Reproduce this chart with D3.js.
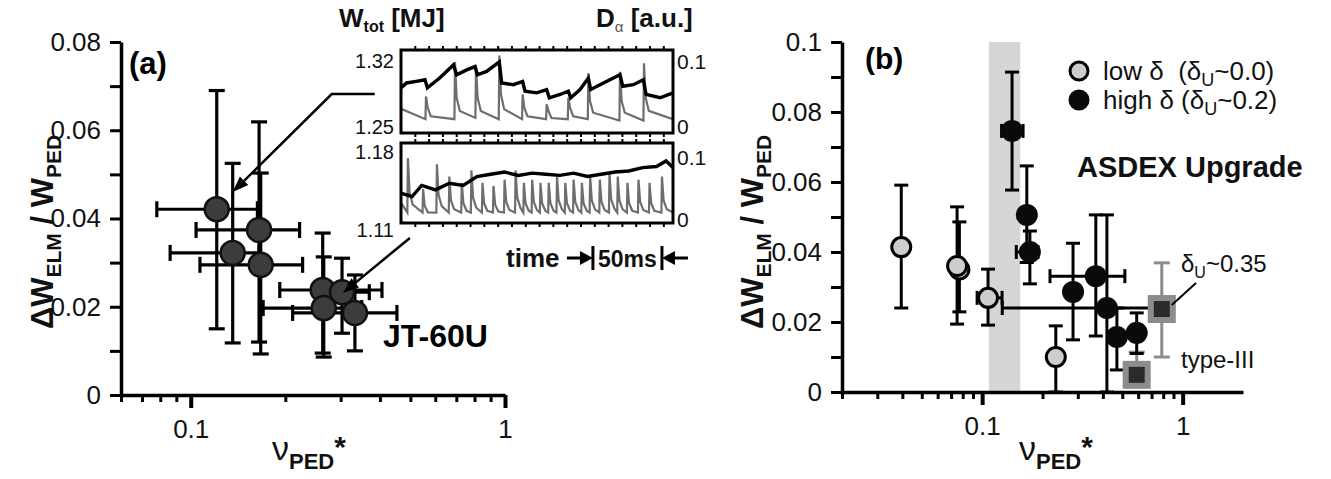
<!DOCTYPE html>
<html>
<head>
<meta charset="utf-8">
<script src="https://cdn.jsdelivr.net/npm/d3@7"></script>
<style>
body { margin: 0; background: #fff; }
svg { font-family: "Liberation Sans", Arial, Helvetica, sans-serif; }
text { white-space: pre; }
</style>
</head>
<body>
<svg id="chart" width="1331" height="479"></svg>
<script>
// ---------- panel (a) JT-60U ----------
const jtNu   = [0.121, 0.165, 0.136, 0.167, 0.263, 0.303, 0.265, 0.333];
const jtNuLo = [0.078, 0.104, 0.086, 0.107, 0.192, 0.25, 0.17, 0.211];
const jtNuHi = [0.163, 0.222, 0.165, 0.227, 0.406, 0.37, 0.35, 0.453];
const jtDW   = [0.0421, 0.0374, 0.0322, 0.0295, 0.0238, 0.0233, 0.0197, 0.0186];
const jtDWLo = [0.0150, 0.0120, 0.0118, 0.0093, 0.0095, 0.014, 0.0086, 0.0100];
const jtDWHi = [0.0690, 0.0619, 0.0525, 0.0503, 0.0367, 0.031, 0.0313, 0.0272];

// ---------- panel (b) ASDEX Upgrade ----------
const lowNu   = [0.077, 0.0395, 0.075, 0.107, 0.233];
const lowDW   = [0.035, 0.0414, 0.036, 0.0269, 0.010];
const lowDWLo = [0.0229, 0.024, 0.0194, 0.0191, 0];
const lowDWHi = [0.0486, 0.0591, 0.0529, 0.0351, 0.0189];
const lowNuLo = [null, null, 0.07, 0.0944, null];
const lowNuHi = [null, null, 0.08, 0.1257, null];

const highNu   = [0.141, 0.167, 0.173, 0.284, 0.369, 0.419, 0.47, 0.59];
const highDW   = [0.0746, 0.0506, 0.040, 0.0286, 0.0331, 0.024, 0.0157, 0.0169];
const highDWLo = [0.0577, 0.037, 0.0309, 0.0149, 0.016, 0, 0.0063, 0.011];
const highDWHi = [0.0914, 0.0646, 0.046, 0.0425, 0.0506, 0.0506, 0.024, 0.0226];
const highNuLo = [0.125, 0.155, 0.148, 0.265, 0.218, 0.126, null, null];
const highNuHi = [0.16, 0.18, 0.19, 0.30, 0.515, 0.75, null, null];

const t3Nu   = [0.787, 0.59];
const t3DW   = [0.0237, 0.0049];
const t3DWLo = [0.010, 0.0049];
const t3DWHi = [0.0369, 0.0114];

const bandNu = [0.108, 0.155];

// ---------- inset: W_tot and D_alpha traces (time in ms) ----------
const wTopT = [0, 4, 11, 17.4, 19.1, 28, 38, 40.3, 47.6, 53.6, 55.3, 62, 71.2, 72.9, 81.4, 88.1, 89.8, 98.3, 105.5, 107.4, 115.2, 121.2, 122.9, 129.7, 135.7, 137.4, 146.6, 158.6, 160.6, 168.3, 175.5, 177.5, 187.6, 197];
const wTopV = [1.2915, 1.2967, 1.2984, 1.3001, 1.2915, 1.3019, 1.3158, 1.3054, 1.3106, 1.3141, 1.3054, 1.3089, 1.319, 1.2967, 1.2949, 1.2984, 1.2880, 1.2862, 1.2897, 1.2810, 1.2845, 1.2880, 1.2810, 1.2897, 1.3019, 1.2897, 1.2967, 1.3054, 1.2932, 1.2949, 1.3001, 1.2845, 1.2810, 1.2862];
const daTopT    = [18.1, 39.1, 54.3, 71.2, 88.1, 105.5, 121.2, 135.7, 158.6, 176];
const daTopPeak = [0.047, 0.100, 0.095, 0.11, 0.05, 0.035, 0.045, 0.083, 0.085, 0.098];
const daTopKnee = [0.03, 0.045, 0.045, 0.05, 0.03, 0.025, 0.03, 0.04, 0.04, 0.045];
const daTopBase = [0.012, 0.012, 0.014, 0.012, 0.012, 0.012, 0.012, 0.012, 0.010, 0.010];

const wBotT = [0, 8, 15, 25, 35, 45, 55, 65, 75, 85, 95, 105, 115, 125, 135, 145, 155, 165, 175, 185, 192, 197];
const wBotV = [1.143, 1.140, 1.150, 1.146, 1.152, 1.150, 1.158, 1.160, 1.162, 1.159, 1.161, 1.160, 1.159, 1.161, 1.158, 1.160, 1.162, 1.163, 1.166, 1.167, 1.172, 1.166];
const daBotT    = [5, 16, 26, 35, 44, 51, 59, 67, 75, 83, 89, 95, 101, 107, 113, 119, 125, 131, 137, 144, 151, 157, 164, 172, 180, 189];
const daBotPeak = [0.10, 0.05, 0.09, 0.07, 0.06, 0.08, 0.06, 0.055, 0.065, 0.08, 0.06, 0.065, 0.06, 0.06, 0.07, 0.06, 0.065, 0.06, 0.07, 0.065, 0.075, 0.07, 0.06, 0.065, 0.06, 0.07];
const daBotBase = 0.012;

// ---------- scales ----------
const svg = d3.select('#chart');

const xA = d3.scaleLog().domain([0.06, 1]).range([121, 505]);
const yA = d3.scaleLinear().domain([0, 0.08]).range([395, 42]);
const xB = d3.scaleLog().domain([0.02, 2]).range([842, 1243]);
const yB = d3.scaleLinear().domain([0, 0.1]).range([392, 42]);

const tS = d3.scaleLinear().domain([0, 197]).range([401, 673]);
const wTop = d3.scaleLinear().domain([1.25, 1.32]).range([127, 61]);
const dTop = d3.scaleLinear().domain([0, 0.1]).range([127, 62]);
const wBot = d3.scaleLinear().domain([1.11, 1.18]).range([230, 152]);
const dBot = d3.scaleLinear().domain([0, 0.1]).range([220, 158]);

// ---------- axes helper ----------
function drawAxes(g, x, y, xMinor, xMajor, yTicks, yLabels, yLabelVals) {
  // log x axis: minor then major
  g.append('g').attr('transform', `translate(0,${y.range()[0]})`)
    .call(d3.axisBottom(x).tickValues(xMinor).tickSize(7).tickSizeOuter(0).tickFormat(''))
    .call(a => a.selectAll('line').attr('stroke-width', 3))
    .call(a => a.select('.domain').attr('stroke-width', 3.5));
  g.append('g').attr('transform', `translate(0,${y.range()[0]})`)
    .call(d3.axisBottom(x).tickValues(xMajor).tickSize(13).tickPadding(12)
      .tickFormat(d => d >= 1 ? '1' : '0.1'))
    .call(a => a.select('.domain').remove())
    .call(a => a.selectAll('line').attr('stroke-width', 4))
    .call(a => a.selectAll('text').attr('font-size', 26).attr('fill', '#111'));
  // y axis
  g.append('g').attr('transform', `translate(${x.range()[0]},0)`)
    .call(d3.axisLeft(y).tickValues(yTicks).tickSize(11).tickSizeOuter(0).tickPadding(9)
      .tickFormat(d => {
        const i = yLabelVals.findIndex(v => Math.abs(v - d) < 1e-9);
        return i >= 0 ? yLabels[i] : '';
      }))
    .call(a => a.selectAll('line').attr('stroke-width', 3))
    .call(a => a.select('.domain').attr('stroke-width', 3.5))
    .call(a => a.selectAll('text').attr('font-size', 26).attr('fill', '#111'));
}

function errBars(g, x, y, nu, dw, lo, hi, nlo, nhi, cap, color, width) {
  nu.forEach((n, i) => {
    const cx = x(n), cy = y(dw[i]);
    if (lo[i] != null) {
      g.append('line').attr('x1', cx).attr('x2', cx).attr('y1', y(lo[i])).attr('y2', y(hi[i]))
        .attr('stroke', color).attr('stroke-width', width);
      [lo[i], hi[i]].forEach(v => {
        if (v === dw[i]) return;
        g.append('line').attr('x1', cx - cap).attr('x2', cx + cap).attr('y1', y(v)).attr('y2', y(v))
          .attr('stroke', color).attr('stroke-width', width);
      });
    }
    if (nlo && nlo[i] != null) {
      g.append('line').attr('x1', x(nlo[i])).attr('x2', x(nhi[i])).attr('y1', cy).attr('y2', cy)
        .attr('stroke', color).attr('stroke-width', width);
      [nlo[i], nhi[i]].forEach(v => {
        g.append('line').attr('x1', x(v)).attr('x2', x(v)).attr('y1', cy - cap).attr('y2', cy + cap)
          .attr('stroke', color).attr('stroke-width', width);
      });
    }
  });
}

// ---------- panel (a) ----------
const gA = svg.append('g');
drawAxes(gA, xA, yA,
  [0.06, 0.07, 0.08, 0.09, 0.2, 0.3, 0.4, 0.5, 0.6, 0.7, 0.8, 0.9], [0.1, 1],
  [0, 0.01, 0.02, 0.03, 0.04, 0.05, 0.06, 0.07, 0.08],
  ['0', '0.02', '0.04', '0.06', '0.08'], [0, 0.02, 0.04, 0.06, 0.08]);

errBars(gA, xA, yA, jtNu, jtDW, jtDWLo, jtDWHi, jtNuLo, jtNuHi, 8, '#000', 3.2);
gA.selectAll('circle.jt').data(jtNu).join('circle').attr('class', 'jt')
  .attr('cx', d => xA(d)).attr('cy', (d, i) => yA(jtDW[i])).attr('r', 12)
  .attr('fill', '#3c3c3c').attr('stroke', '#111').attr('stroke-width', 2.5);

// arrows from inset to points
const arrowPts1 = [[0.385, 0.0682], [0.281, 0.0682], [0.136, 0.046]];
const arrowPts2 = [[0.498, 0.0356], [0.305, 0.0231]];
function arrow(pts) {
  const p = pts.map(d => [xA(d[0]), yA(d[1])]);
  const a = p[p.length - 2], b = p[p.length - 1];
  const ang = Math.atan2(b[1] - a[1], b[0] - a[0]);
  const L = 16, Wd = 6;
  const base = [b[0] - L * Math.cos(ang), b[1] - L * Math.sin(ang)];
  const q = p.slice(0, -1).concat([base]);
  gA.append('path').attr('d', d3.line()(q)).attr('fill', 'none').attr('stroke', '#000').attr('stroke-width', 2.5);
  gA.append('path').attr('d', d3.line()([
    b,
    [base[0] + Wd * Math.sin(ang), base[1] - Wd * Math.cos(ang)],
    [base[0] - Wd * Math.sin(ang), base[1] + Wd * Math.cos(ang)]
  ]) + 'Z').attr('fill', '#000');
}
arrow(arrowPts1);
arrow(arrowPts2);

gA.append('text').attr('x', 129).attr('y', 74).attr('font-size', 31).attr('font-weight', 'bold').text('(a)');
gA.append('text').attr('x', 383).attr('y', 347).attr('font-size', 32).attr('font-weight', 'bold').text('JT-60U');

function yLabel(g, cx, cy) {
  const t = g.append('text').attr('transform', `translate(${cx},${cy}) rotate(-90)`)
    .attr('text-anchor', 'middle').attr('font-weight', 'bold').attr('font-size', 31).attr('fill', '#111');
  t.append('tspan').text('\u0394W');
  t.append('tspan').attr('font-size', 21).attr('dy', 8).text('ELM');
  t.append('tspan').attr('dy', -8).text(' / W');
  t.append('tspan').attr('font-size', 21).attr('dy', 8).text('PED');
}
function xLabel(g, x0, y0) {
  const t = g.append('text').attr('x', x0).attr('y', y0).attr('fill', '#111');
  t.append('tspan').attr('font-size', 34).text('\u03bd');
  t.append('tspan').attr('font-size', 22).attr('font-weight', 'bold').attr('dy', 9).text('PED');
  t.append('tspan').attr('font-size', 30).attr('font-weight', 'bold').attr('dy', -12).text('*');
}
yLabel(gA, 53, 232);
xLabel(gA, 272, 460);

// ---------- inset ----------
const gI = svg.append('g');
const boxes = [{ w: wTop, d: dTop, y0: 50, y1: 133, wl: [1.25, 1.32] }, { w: wBot, d: dBot, y0: 143, y1: 223, wl: [1.11, 1.18] }];

function traceDa(times, peaks, knees, base) {
  const pts = [];
  pts.push([0, 0.028]);
  times.forEach((t, i) => {
    const b = Array.isArray(base) ? base[i] : base;
    pts.push([t - 0.4, b]);
    pts.push([t, peaks[i]]);
    pts.push([t + 1.2, knees ? knees[i] : peaks[i] * 0.45]);
    pts.push([t + 3.5, (knees ? knees[i] : peaks[i] * 0.45) * 0.55]);
  });
  pts.push([197, 0.012]);
  return pts;
}

const clipIds = ['clipTop', 'clipBot'];
boxes.forEach((bx, k) => {
  svg.append('clipPath').attr('id', clipIds[k]).append('rect')
    .attr('x', 401).attr('y', bx.y0).attr('width', 272).attr('height', bx.y1 - bx.y0);
});

// D_alpha (gray)
const lineDTop = d3.line().x(d => tS(d[0])).y(d => dTop(Math.min(d[1], 0.12)));
gI.append('path').attr('clip-path', 'url(#clipTop)')
  .attr('d', lineDTop(traceDa(daTopT, daTopPeak, daTopKnee, daTopBase)))
  .attr('fill', 'none').attr('stroke', '#6e6e6e').attr('stroke-width', 2.2);
const lineDBot = d3.line().x(d => tS(d[0])).y(d => dBot(d[1]));
gI.append('path').attr('clip-path', 'url(#clipBot)')
  .attr('d', lineDBot(traceDa(daBotT, daBotPeak, null, daBotBase)))
  .attr('fill', 'none').attr('stroke', '#6e6e6e').attr('stroke-width', 2.2);

// W_tot (black)
gI.append('path').attr('clip-path', 'url(#clipTop)')
  .attr('d', d3.line().x((d, i) => tS(wTopT[i])).y(d => wTop(d))(wTopV))
  .attr('fill', 'none').attr('stroke', '#000').attr('stroke-width', 3.4);
gI.append('path').attr('clip-path', 'url(#clipBot)')
  .attr('d', d3.line().x((d, i) => tS(wBotT[i])).y(d => wBot(d))(wBotV))
  .attr('fill', 'none').attr('stroke', '#000').attr('stroke-width', 3.4);

boxes.forEach(bx => {
  gI.append('rect').attr('x', 401).attr('y', bx.y0).attr('width', 272).attr('height', bx.y1 - bx.y0)
    .attr('fill', 'none').attr('stroke', '#000').attr('stroke-width', 3);
  // small inner ticks
  gI.append('g').attr('transform', `translate(0,${bx.y0})`)
    .call(d3.axisBottom(tS).tickValues(d3.range(10, 197, 10)).tickSize(-4).tickFormat(''))
    .call(a => a.select('.domain').remove()).call(a => a.selectAll('line').attr('stroke-width', 2));
  gI.append('g').attr('transform', `translate(0,${bx.y1})`)
    .call(d3.axisTop(tS).tickValues(d3.range(10, 197, 10)).tickSize(-4).tickFormat(''))
    .call(a => a.select('.domain').remove()).call(a => a.selectAll('line').attr('stroke-width', 2));
  // labels
  gI.append('g').attr('transform', 'translate(394,0)')
    .call(d3.axisLeft(bx.w).tickValues(bx.wl).tickSize(0).tickPadding(0).tickFormat(d3.format('.2f')))
    .call(a => a.select('.domain').remove())
    .call(a => a.selectAll('text').attr('font-size', 20).attr('fill', '#111'));
  gI.append('g').attr('transform', 'translate(677,0)')
    .call(d3.axisRight(bx.d).tickValues([0, 0.1]).tickSize(0).tickPadding(0).tickFormat(d => d ? '0.1' : '0'))
    .call(a => a.select('.domain').remove())
    .call(a => a.selectAll('text').attr('font-size', 21).attr('fill', '#111'));
});

const tw = gI.append('text').attr('x', 339).attr('y', 27).attr('font-weight', 'bold').attr('font-size', 26).attr('fill', '#111');
tw.append('tspan').text('W');
tw.append('tspan').attr('font-size', 16).attr('dy', 5).text('tot');
tw.append('tspan').attr('dy', -5).text(' [MJ]');
const td = gI.append('text').attr('x', 596).attr('y', 27).attr('font-weight', 'bold').attr('font-size', 26).attr('fill', '#111');
td.append('tspan').text('D');
td.append('tspan').attr('font-size', 15).attr('font-weight', 'normal').attr('fill', '#555').attr('dy', 5).text('\u03b1');
td.append('tspan').attr('dy', -5).text(' [a.u.]');

// time scale bar
const scaleBar = [139, 189];
const by = 258;
gI.append('text').attr('x', 506).attr('y', by + 9).attr('font-weight', 'bold').attr('font-size', 26).attr('fill', '#111').text('time');
gI.append('text').attr('x', (tS(scaleBar[0]) + tS(scaleBar[1])) / 2).attr('y', by + 9).attr('text-anchor', 'middle')
  .attr('font-weight', 'bold').attr('font-size', 23).attr('fill', '#111').text('50ms');
[scaleBar[0], scaleBar[1]].forEach((t, i) => {
  const x = tS(t);
  gI.append('line').attr('x1', x).attr('x2', x).attr('y1', by - 12).attr('y2', by + 12).attr('stroke', '#000').attr('stroke-width', 3);
  const dir = i === 0 ? -1 : 1;
  gI.append('line').attr('x1', x + dir * 26).attr('x2', x + dir * 10).attr('y1', by).attr('y2', by).attr('stroke', '#000').attr('stroke-width', 3);
  gI.append('path').attr('d', `M${x},${by}L${x + dir * 13},${by - 7}L${x + dir * 13},${by + 7}Z`).attr('fill', '#000');
});

// ---------- panel (b) ----------
const gB = svg.append('g');
gB.append('rect').attr('x', xB(bandNu[0])).attr('y', yB(0.1))
  .attr('width', xB(bandNu[1]) - xB(bandNu[0])).attr('height', yB(0) - yB(0.1)).attr('fill', '#d6d6d6');

drawAxes(gB, xB, yB,
  [0.02, 0.03, 0.04, 0.05, 0.06, 0.07, 0.08, 0.09, 0.2, 0.3, 0.4, 0.5, 0.6, 0.7, 0.8, 0.9], [0.1, 1],
  d3.range(0, 0.1001, 0.01).map(d => +d.toFixed(2)),
  ['0', '0.02', '0.04', '0.06', '0.08', '0.1'], [0, 0.02, 0.04, 0.06, 0.08, 0.1]);

errBars(gB, xB, yB, t3Nu, t3DW, t3DWLo, t3DWHi, null, null, 8, '#8c8c8c', 3);
errBars(gB, xB, yB, lowNu, lowDW, lowDWLo, lowDWHi, lowNuLo, lowNuHi, 7, '#000', 3);
errBars(gB, xB, yB, highNu, highDW, highDWLo, highDWHi, highNuLo, highNuHi, 7, '#000', 3);

gB.selectAll('circle.low').data(lowNu).join('circle').attr('class', 'low')
  .attr('cx', d => xB(d)).attr('cy', (d, i) => yB(lowDW[i])).attr('r', 9.5)
  .attr('fill', '#cdcdcd').attr('stroke', '#000').attr('stroke-width', 3);
gB.selectAll('circle.high').data(highNu).join('circle').attr('class', 'high')
  .attr('cx', d => xB(d)).attr('cy', (d, i) => yB(highDW[i])).attr('r', 11)
  .attr('fill', '#0a0a0a');
gB.selectAll('rect.t3').data(t3Nu).join('rect').attr('class', 't3')
  .attr('x', d => xB(d) - 11).attr('y', (d, i) => yB(t3DW[i]) - 11).attr('width', 22).attr('height', 22)
  .attr('fill', '#2a2a2a').attr('stroke', '#8c8c8c').attr('stroke-width', 6);

// legend
const legY = [71, 100];
gB.append('circle').attr('cx', 1079).attr('cy', legY[0]).attr('r', 9).attr('fill', '#cdcdcd').attr('stroke', '#000').attr('stroke-width', 3);
gB.append('circle').attr('cx', 1079).attr('cy', legY[1]).attr('r', 10.5).attr('fill', '#0a0a0a');
const legTxt = [['low \u03b4  (\u03b4', '~0.0)'], ['high \u03b4 (\u03b4', '~0.2)']];
legTxt.forEach((p, i) => {
  const t = gB.append('text').attr('x', 1103).attr('y', legY[i] + 9).attr('font-size', 26).attr('fill', '#111');
  t.append('tspan').text(p[0]);
  t.append('tspan').attr('font-size', 18).attr('dy', 6).text('U');
  t.append('tspan').attr('dy', -6).text(p[1]);
});
gB.append('text').attr('x', 1077).attr('y', 177).attr('font-size', 29).attr('font-weight', 'bold').attr('fill', '#111').text('ASDEX Upgrade');
gB.append('text').attr('x', 865).attr('y', 69).attr('font-size', 30).attr('font-weight', 'bold').text('(b)');

// delta_U ~ 0.35 annotation
const ann = gB.append('text').attr('x', 1181).attr('y', 272).attr('font-size', 24).attr('fill', '#111');
ann.append('tspan').text('\u03b4');
ann.append('tspan').attr('font-size', 16).attr('dy', 6).text('U');
ann.append('tspan').attr('dy', -6).text('~0.35');
gB.append('line').attr('x1', xB(t3Nu[0]) + 10).attr('y1', yB(t3DW[0]) - 4).attr('x2', 1196).attr('y2', 283)
  .attr('stroke', '#000').attr('stroke-width', 2);
gB.append('text').attr('x', 1181).attr('y', 368).attr('font-size', 24).attr('fill', '#111').text('type-III');

yLabel(gB, 763, 232);
xLabel(gB, 1019, 460);
</script>
</body>
</html>
